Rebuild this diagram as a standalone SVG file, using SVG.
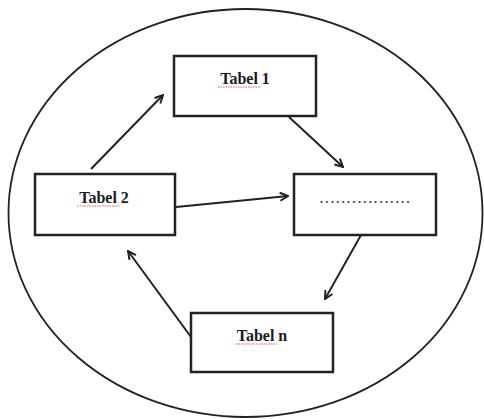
<svg xmlns="http://www.w3.org/2000/svg" width="484" height="419" viewBox="0 0 484 419">
<style>
.box{fill:#fff;stroke:#222;stroke-width:2.5}
.lbl{font-family:"Liberation Serif","Times New Roman",serif;font-weight:bold;font-size:16px;fill:#1a1a2a;text-anchor:middle}
.sq{fill:none;stroke:#e03030;stroke-width:0.8;stroke-dasharray:1.5 1}
.con{stroke:#222;stroke-width:2;fill:none}
</style>
<defs>
<marker id="ah" viewBox="0 0 10 10" refX="9" refY="5" markerWidth="10" markerHeight="10" markerUnits="userSpaceOnUse" orient="auto">
<path d="M1,1 L9,5 L1,9" fill="none" stroke="#222" stroke-width="2"/>
</marker>
</defs>
<rect width="484" height="419" fill="#fff"/>
<ellipse cx="245.5" cy="213" rx="237" ry="204" fill="none" stroke="#222" stroke-width="1.8"/>
<g id="connectors">
<line class="con" x1="91" y1="169" x2="163" y2="95" marker-end="url(#ah)"/>
<line class="con" x1="289" y1="117" x2="343" y2="167" marker-end="url(#ah)"/>
<line class="con" x1="176" y1="207" x2="288" y2="196" marker-end="url(#ah)"/>
<line class="con" x1="361" y1="235" x2="325" y2="299" marker-end="url(#ah)"/>
<line class="con" x1="191" y1="337" x2="128" y2="251" marker-end="url(#ah)"/>
</g>
<g id="tabel1">
<rect class="box" x="174" y="56" width="142" height="60"/>
<text class="lbl" x="245" y="84">Tabel 1</text>
<path class="sq" d="M218,87 h43"/>
</g>
<g id="tabel2">
<rect class="box" x="35" y="174" width="140" height="61"/>
<text class="lbl" x="104" y="203">Tabel 2</text>
<path class="sq" d="M77,206 h43"/>
</g>
<g id="dots">
<rect class="box" x="294" y="174" width="142" height="61"/>
<text x="366" y="203" style="font-family:'Liberation Serif','Times New Roman',serif;font-weight:bold;font-size:12px;letter-spacing:2.4px;fill:#334;text-anchor:middle">.................</text>
</g>
<g id="tabeln">
<rect class="box" x="191" y="313" width="142" height="59"/>
<text class="lbl" x="262" y="341">Tabel n</text>
<path class="sq" d="M236,344 h41"/>
</g>
</svg>
